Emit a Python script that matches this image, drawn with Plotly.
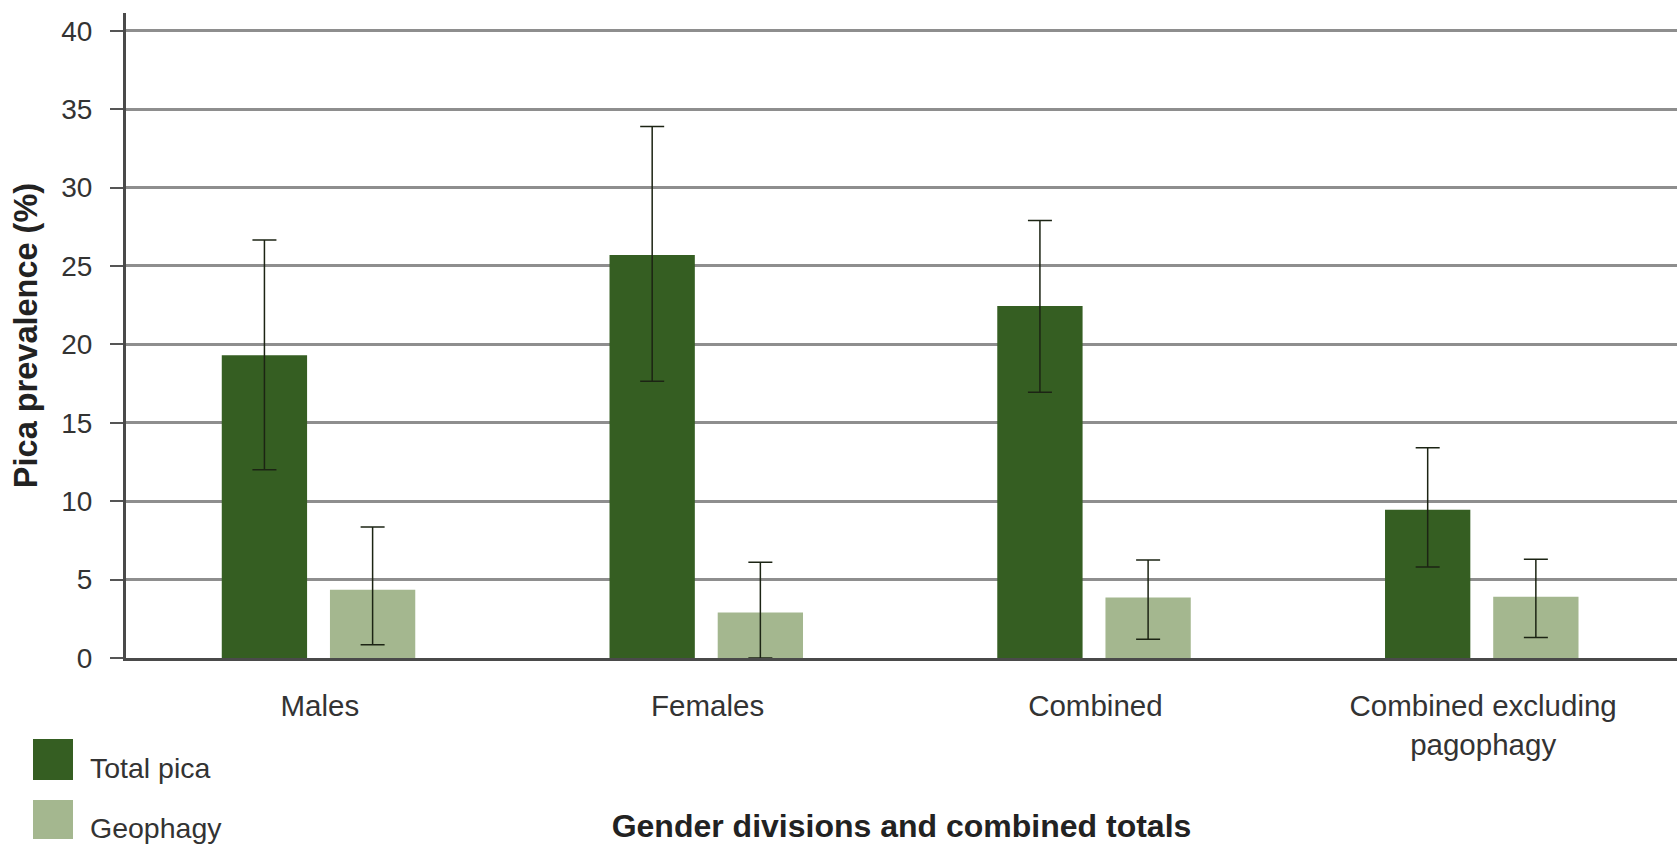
import plotly.graph_objects as go
import numpy as np

categories = ["Males", "Females", "Combined", "Combined excluding<br>pagophagy"]
series_names = ["Total pica", "Geophagy"]

total_pica = [19.3, 25.7, 22.45, 9.45]
total_pica_upper = [26.65, 33.9, 27.9, 13.4]
total_pica_lower = [12.0, 17.65, 16.95, 5.8]

geophagy = [4.35, 2.9, 3.85, 3.9]
geophagy_upper = [8.35, 6.1, 6.25, 6.3]
geophagy_lower = [0.85, 0.0, 1.2, 1.3]

y_ticks = [0, 5, 10, 15, 20, 25, 30, 35, 40]

DARK = "#355e22"
LIGHT = "#a4b78f"
FONT = "Liberation Sans, Arial, sans-serif"

W, H = 1677, 848
ML, MR, MT, MB = 126, 0, 13, 190
PW, PH = W - ML - MR, H - MT - MB

fig = go.Figure()

def add_series(name, vals, upper, lower, color, offset):
    v = np.array(vals)
    fig.add_trace(go.Bar(
        name=name, x=categories, y=vals,
        marker=dict(color=color, line=dict(width=0)),
        width=0.22, offset=offset,
        error_y=dict(type="data", symmetric=False,
                     array=list(np.array(upper) - v),
                     arrayminus=list(v - np.array(lower)),
                     color="#1c2414", thickness=1.5, width=12),
        showlegend=False,
    ))

add_series(series_names[0], total_pica, total_pica_upper, total_pica_lower, DARK, -0.253)
add_series(series_names[1], geophagy, geophagy_upper, geophagy_lower, LIGHT, 0.026)

# legend drawn as boxes + labels (pixel positions converted to paper coords)
def px_x(px):
    return (px - ML) / PW

def px_y(py):
    return (H - MB - py) / PH

legend_items = [(series_names[0], DARK, 739, 780), (series_names[1], LIGHT, 800, 839)]
for name, col, y0, y1 in legend_items:
    fig.add_shape(type="rect", xref="paper", yref="paper",
                  x0=px_x(33), x1=px_x(73), y0=px_y(y1), y1=px_y(y0),
                  fillcolor=col, line=dict(width=0))
    fig.add_annotation(xref="paper", yref="paper",
                       x=px_x(88), y=px_y((y0 + y1) / 2 + 8),
                       text=name, showarrow=False, xanchor="left", yanchor="middle",
                       font=dict(family=FONT, size=28.5, color="#333333"))

fig.update_layout(
    width=W, height=H,
    margin=dict(l=ML, r=MR, t=MT, b=MB),
    paper_bgcolor="white", plot_bgcolor="white",
    barmode="group",
    font=dict(family=FONT, color="#333333"),
    xaxis=dict(
        range=[-0.5, 3.5],
        showgrid=False, zeroline=False,
        showline=True, linecolor="#4a4a4a", linewidth=3,
        ticks="", ticklabelstandoff=20,
        tickfont=dict(family=FONT, size=29.5, color="#333333"),
        title=dict(text="Gender divisions and combined totals",
                   font=dict(family=FONT, size=32, color="#222222", weight="bold"),
                   standoff=55),
    ),
    yaxis=dict(
        range=[0, 41.13],
        tickvals=y_ticks,
        showgrid=True, gridcolor="#8e8e8e", gridwidth=3,
        zeroline=False,
        showline=True, linecolor="#4a4a4a", linewidth=3,
        ticks="outside", ticklen=13, tickwidth=2, tickcolor="#555555",
        ticklabelstandoff=12,
        tickfont=dict(family=FONT, size=28, color="#333333"),
        title=dict(text="Pica prevalence (%)",
                   font=dict(family=FONT, size=32.5, color="#222222", weight="bold"),
                   standoff=14),
    ),
)

fig.write_html("out.html", config={"displayModeBar": False},
               post_script="document.body.style.margin='0';document.body.style.overflow='hidden';")
